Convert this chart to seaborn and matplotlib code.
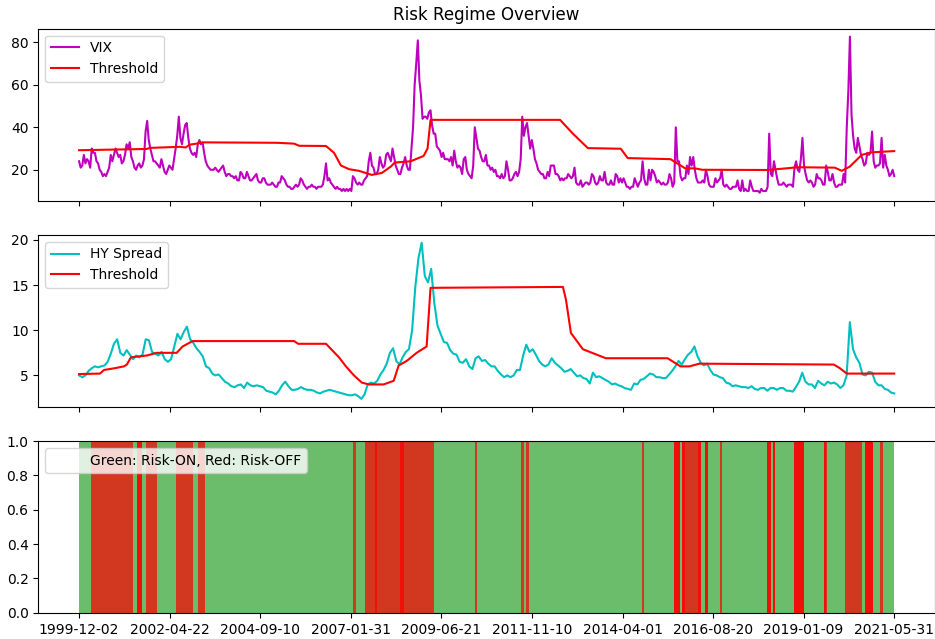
import pandas as pd
import matplotlib.pyplot as plt
import seaborn as sns
from matplotlib.lines import Line2D

start, end = '1999-12-02', '2021-05-31'

# VIX, two readings per month (Dec 1999 .. May 2021)
vix = [24, 21,
       22, 27, 23, 25, 24, 21, 30, 28, 28, 24, 23, 20, 19, 17, 18, 17, 19, 21, 27, 24, 27, 30, 28, 26,
       27, 23, 24, 27, 32, 30, 33, 26, 24, 21, 20, 22, 23, 21, 22, 25, 38, 43, 34, 30, 27, 24, 24, 23,
       22, 21, 25, 22, 19, 18, 20, 22, 21, 20, 25, 30, 36, 45, 35, 32, 37, 41, 42, 35, 30, 28, 27, 28,
       26, 32, 34, 32, 33, 28, 24, 22, 21, 20, 20, 20, 21, 20, 19, 20, 21, 22, 19, 17, 18, 18, 17, 17,
       16, 17, 15, 15, 19, 18, 16, 16, 19, 17, 15, 15, 16, 17, 18, 15, 14, 14, 16, 16, 14, 13, 13, 13,
       14, 13, 12, 12, 14, 14, 17, 16, 15, 13, 12, 12, 11, 11, 12, 13, 12, 13, 16, 15, 13, 12, 11, 12,
       12, 13, 12, 12, 11, 12, 12, 12, 13, 17, 23, 15, 16, 14, 13, 12, 11, 12, 11, 11, 10, 11, 10, 11,
       10, 11, 10, 17, 16, 14, 13, 14, 13, 13, 15, 16, 17, 24, 28, 22, 21, 18, 18, 20, 26, 23, 21, 22,
       27, 28, 26, 24, 30, 26, 22, 20, 18, 18, 21, 23, 26, 22, 20, 20, 30, 40, 60, 70, 80.9, 62, 55, 44,
       45, 45, 44, 47, 48, 41, 37, 37, 31, 30, 29, 26, 28, 25, 25, 25, 24, 26, 22, 29, 24, 21, 22, 21,
       18, 25, 26, 20, 18, 17, 16, 22, 40, 35, 30, 29, 26, 24, 24, 27, 22, 22, 20, 21, 19, 20, 17, 17,
       16, 18, 16, 17, 24, 20, 15, 15, 16, 18, 19, 17, 19, 25, 45, 36, 40, 42, 36, 30, 34, 30, 25, 23,
       20, 19, 18, 18, 16, 16, 19, 17, 22, 22, 22, 18, 18, 17, 15, 16, 15, 16, 16, 18, 17, 16, 17, 21,
       14, 13, 13, 15, 12, 13, 14, 14, 13, 14, 18, 17, 14, 13, 14, 17, 15, 15, 19, 14, 13, 13, 15, 13,
       13, 18, 17, 14, 16, 14, 16, 14, 12, 12, 11, 12, 12, 16, 14, 12, 14, 15, 24, 16, 13, 13, 20, 15,
       20, 19, 17, 14, 15, 14, 13, 14, 13, 13, 14, 18, 16, 12, 14, 40, 24, 24, 17, 15, 16, 16, 22, 18,
       26, 22, 26, 20, 16, 14, 14, 14, 15, 14, 20, 17, 13, 12, 12, 12, 16, 14, 15, 16, 20, 13, 12, 13,
       12, 11, 11, 12, 12, 12, 15, 11, 10, 15, 10, 11, 10, 10, 15, 12, 10, 10, 10, 10, 9.2, 11, 10, 10,
       10, 12, 37, 18, 17, 24, 20, 16, 13, 13, 13, 14, 13, 12, 13, 13, 13, 12, 21, 24, 20, 19, 25, 35,
       22, 18, 15, 14, 15, 14, 12, 13, 18, 16, 16, 15, 13, 13, 22, 19, 15, 15, 18, 14, 12, 12, 13, 13,
       13, 18, 14, 40, 57, 82.7, 46, 36, 30, 28, 35, 31, 27, 25, 22, 23, 28, 27, 28, 38, 24, 21, 22, 22,
       23, 35, 21, 27, 22, 20, 17, 18, 20, 17]

# HY spread, monthly (Dec 1999 .. May 2021)
hy = [5.0,
      4.8, 5.0, 5.5, 5.8, 6.0, 5.9, 6.0, 6.1, 6.5, 7.4, 8.5, 9.0,
      7.5, 7.2, 7.8, 7.3, 6.8, 7.2, 7.0, 7.3, 9.0, 8.9, 7.6, 7.4,
      7.2, 7.6, 6.8, 6.5, 6.8, 8.2, 9.6, 9.0, 9.8, 10.4, 9.0, 8.6,
      8.0, 7.6, 7.1, 6.0, 5.8, 5.2, 5.0, 5.1, 4.7, 4.3, 4.1, 3.8,
      3.7, 3.9, 4.0, 3.6, 4.2, 3.9, 3.8, 3.9, 3.8, 3.7, 3.3, 3.2,
      3.1, 2.9, 3.3, 3.9, 4.3, 3.8, 3.4, 3.4, 3.5, 3.7, 3.5, 3.4,
      3.4, 3.3, 3.1, 3.0, 3.2, 3.3, 3.4, 3.3, 3.2, 3.1, 3.0, 2.9,
      2.8, 2.8, 2.9, 2.7, 2.4, 2.9, 4.0, 4.2, 4.1, 4.4, 5.1, 5.6,
      6.3, 7.5, 8.0, 6.6, 6.2, 7.0, 7.6, 7.9, 10.0, 14.8, 18.0, 19.7,
      16.0, 15.3, 16.8, 13.0, 10.5, 9.6, 8.7, 8.6, 7.8, 7.4, 7.3, 6.5,
      6.4, 6.8, 6.0, 5.7, 6.9, 7.1, 6.6, 6.7, 6.3, 6.0, 6.0, 5.5,
      5.1, 4.8, 5.0, 4.8, 5.0, 5.6, 5.6, 7.2, 8.4, 7.6, 7.9, 7.3,
      6.6, 6.2, 6.0, 6.2, 6.9, 6.4, 6.1, 5.8, 5.4, 5.5, 5.7, 5.3,
      4.9, 5.0, 4.7, 4.6, 4.1, 5.3, 4.8, 4.9, 4.7, 4.5, 4.3, 4.0,
      4.1, 3.9, 3.8, 3.6, 3.5, 3.4, 4.1, 4.0, 4.5, 4.6, 4.9, 5.2,
      5.1, 4.8, 4.8, 4.7, 4.7, 5.1, 5.5, 6.0, 6.6, 6.2, 6.8, 7.3,
      7.6, 8.2, 7.1, 6.4, 6.1, 6.3, 5.6, 5.1, 5.0, 4.8, 4.7, 4.2,
      4.1, 3.8, 3.9, 3.8, 3.7, 3.7, 3.6, 3.8, 3.5, 3.4, 3.6, 3.6,
      3.3, 3.6, 3.6, 3.4, 3.6, 3.6, 3.3, 3.3, 3.2, 3.7, 4.3, 5.3,
      4.3, 4.0, 4.0, 3.6, 4.4, 4.1, 3.9, 4.3, 4.1, 4.2, 4.0, 3.6,
      3.9, 5.0, 10.9, 7.9, 7.0, 6.4, 5.1, 5.0, 5.4, 5.3, 4.3, 3.9,
      3.9, 3.5, 3.4, 3.1, 3.0]

# threshold knots
vix_thr_dates = ['1999-12-02', '2001-09-13', '2001-10-13', '2002-07-28', '2002-09-23', '2002-10-31',
                 '2003-03-24', '2005-02-21', '2005-08-03', '2005-09-20', '2006-06-06', '2006-08-22',
                 '2006-10-28', '2007-01-13', '2007-04-19', '2007-08-21', '2007-11-25', '2008-02-20',
                 '2008-03-29', '2008-08-29', '2009-01-01', '2009-02-08', '2009-03-09', '2012-08-07',
                 '2012-12-09', '2013-05-02', '2014-03-15', '2014-05-21', '2015-07-07', '2015-11-28',
                 '2016-02-22', '2016-05-09', '2018-01-22', '2018-08-02', '2018-11-06', '2019-11-05',
                 '2020-01-12', '2020-03-29', '2020-07-22', '2020-10-25', '2021-05-31']
vix_thr = [29.2, 29.8, 30.3, 30.8, 30.5, 31.8, 32.9, 32.7, 32.3, 31.3, 31.2, 28, 22, 20.3, 19.5, 17.6,
           18.5, 21.5, 23.4, 24, 26.5, 30, 43.5, 43.5, 37, 30.2, 29.9, 25.5, 25, 20.6, 20.7, 20.0, 19.9,
           20.7, 21.2, 21.0, 19.5, 21.5, 27, 28.2, 28.8]

hy_thr_dates = ['1999-12-02', '2000-06-20', '2000-07-29', '2000-11-11', '2001-02-06', '2001-03-06',
                '2001-04-14', '2001-09-13', '2001-12-19', '2002-06-29', '2002-08-25', '2002-11-29',
                '2005-08-03', '2005-09-11', '2006-06-06', '2006-10-09', '2006-12-15', '2007-03-02',
                '2007-05-17', '2007-07-24', '2007-12-14', '2008-03-19', '2008-05-06', '2008-07-22',
                '2008-10-26', '2009-01-30', '2009-03-09', '2012-09-04', '2012-10-03', '2012-11-20',
                '2013-03-15', '2013-10-22', '2015-06-09', '2015-10-11', '2016-01-06', '2016-04-10',
                '2019-10-27', '2019-12-24', '2020-02-29', '2021-05-31']
hy_thr = [5.15, 5.2, 5.6, 5.8, 6.0, 6.2, 7.0, 7.2, 7.5, 7.5, 8.2, 8.8, 8.8, 8.5, 8.5, 7.0, 6.0, 5.0,
          4.2, 4.0, 4.0, 4.4, 6.1, 6.6, 7.5, 8.2, 14.7, 14.8, 13.4, 9.7, 7.9, 6.9, 6.9, 6.0, 6.0, 6.3,
          6.2, 5.8, 5.2, 5.2]

# risk-off periods, and periods where both signals are off
off_start = ['2000-03-23', '2001-06-13', '2001-09-02', '2002-06-19', '2003-01-19', '2007-02-23',
             '2007-06-12', '2010-05-12', '2011-07-27', '2011-09-19', '2014-10-05', '2015-08-05',
             '2015-10-30', '2016-06-04', '2016-10-22', '2018-01-22', '2018-03-18', '2018-10-06',
             '2019-07-26', '2020-02-12', '2020-08-22', '2021-01-13']
off_end = ['2001-05-06', '2001-07-31', '2001-12-22', '2002-12-02', '2003-03-24', '2007-03-18',
           '2009-04-14', '2010-06-03', '2011-08-25', '2011-10-14', '2014-10-25', '2015-10-04',
           '2016-04-23', '2016-07-06', '2016-11-10', '2018-03-05', '2018-04-12', '2019-01-10',
           '2019-08-27', '2020-07-21', '2020-11-11', '2021-02-08']
both_start = ['2001-06-13', '2007-09-19', '2008-05-16', '2015-08-05', '2015-10-30', '2016-03-25',
              '2016-06-04', '2018-01-22', '2018-03-18', '2018-10-06', '2019-07-26', '2020-08-22']
both_end = ['2001-07-31', '2007-10-08', '2008-06-23', '2015-10-04', '2015-11-28', '2016-04-23',
            '2016-07-06', '2018-03-05', '2018-04-12', '2019-01-10', '2019-08-12', '2020-11-11']

tick_labels = ['1999-12-02', '2002-04-22', '2004-09-10', '2007-01-31', '2009-06-21',
               '2011-11-10', '2014-04-01', '2016-08-20', '2019-01-09', '2021-05-31']

vix_dates = pd.date_range(start, end, periods=len(vix))
hy_dates = pd.date_range(start, end, periods=len(hy))

fig, (ax1, ax2, ax3) = plt.subplots(3, 1, sharex=True, figsize=(9.35, 6.39), dpi=100)
fig.subplots_adjust(left=0.041, right=1.0, top=0.955, bottom=0.041, hspace=0.2)

# VIX panel
sns.lineplot(x=vix_dates, y=vix, ax=ax1, color='m', label='VIX')
sns.lineplot(x=pd.to_datetime(vix_thr_dates), y=vix_thr, ax=ax1, color='r', label='Threshold')
ax1.legend(loc='upper left')
ax1.set_title('Risk Regime Overview')

# HY spread panel
sns.lineplot(x=hy_dates, y=hy, ax=ax2, color='c', label='HY Spread')
sns.lineplot(x=pd.to_datetime(hy_thr_dates), y=hy_thr, ax=ax2, color='r', label='Threshold')
ax2.legend(loc='upper left')

# regime panel
ax3.axvspan(pd.Timestamp(start), pd.Timestamp(end), color='tab:green', alpha=0.7, lw=0)
for s, e in zip(off_start, off_end):
    ax3.axvspan(pd.Timestamp(s), pd.Timestamp(e), color='red', alpha=0.7, lw=0)
for s, e in zip(both_start, both_end):
    ax3.axvspan(pd.Timestamp(s), pd.Timestamp(e), color='red', alpha=0.7, lw=0)
ax3.set_ylim(0, 1)
ax3.legend(handles=[Line2D([], [], linestyle='none')], labels=['Green: Risk-ON, Red: Risk-OFF'],
           loc='upper left')

ax3.set_xticks(pd.to_datetime(tick_labels))
ax3.set_xticklabels(tick_labels)

for ax in (ax1, ax2, ax3):
    ax.set_xlabel('')
    ax.set_ylabel('')

plt.savefig('out.png', dpi=100)
